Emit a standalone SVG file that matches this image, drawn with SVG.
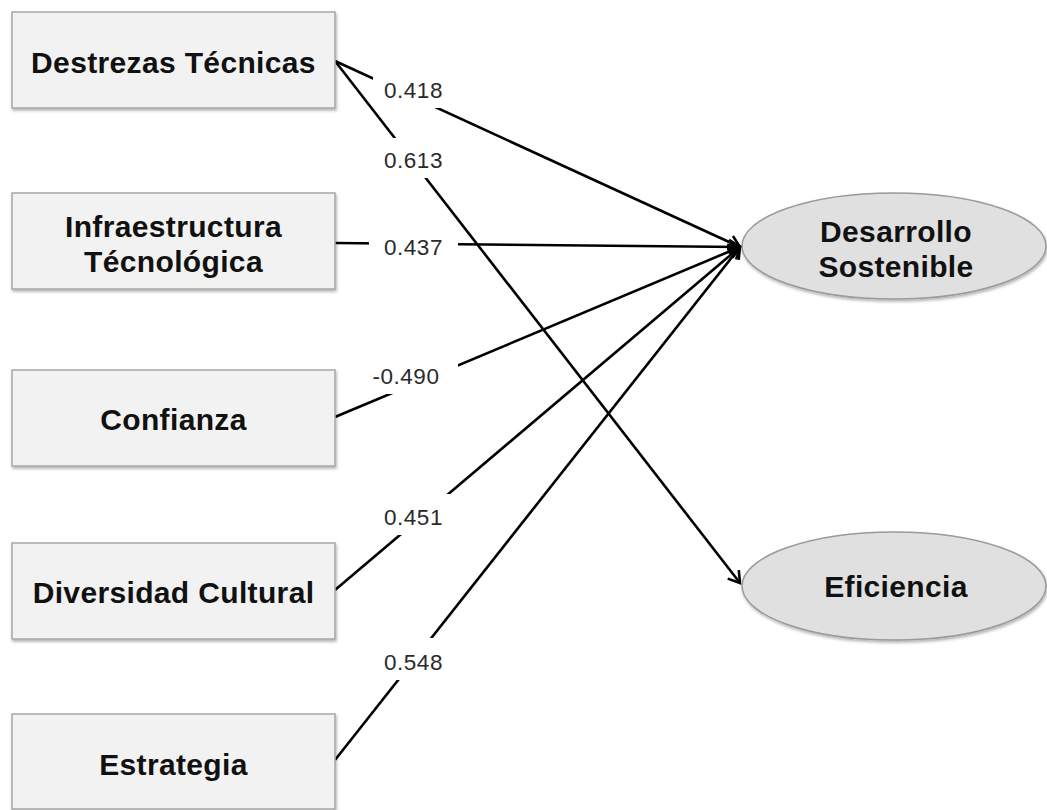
<svg xmlns="http://www.w3.org/2000/svg" width="1047" height="810" viewBox="0 0 1047 810">
  <style>
    .box { fill: #f2f2f2; stroke: #a6a6a6; stroke-width: 1.5; filter: url(#shadow); }
    .ell { fill: #e0e0e0; stroke: #9a9a9a; stroke-width: 1.5; filter: url(#shadow); }
    .nt { font-family: "Liberation Sans", Arial, Helvetica, sans-serif; font-weight: bold; font-size: 30px; letter-spacing: 0.35px; fill: #111; text-anchor: middle; }
    .edge { stroke: #000; stroke-width: 2.6; fill: none; marker-end: url(#arrow); }
    .lblbg { fill: #fff; stroke: none; }
    .lbl { font-family: "Liberation Sans", Arial, Helvetica, sans-serif; font-size: 22.5px; letter-spacing: 0.5px; fill: #2a2a2a; text-anchor: middle; }
  </style>
  <defs>
    <filter id="shadow" x="-5%" y="-5%" width="115%" height="120%">
      <feDropShadow dx="1" dy="2" stdDeviation="1.5" flood-color="#000" flood-opacity="0.3"/>
    </filter>
    <marker id="arrow" markerUnits="userSpaceOnUse" markerWidth="24" markerHeight="24" refX="20" refY="12" orient="auto">
      <path d="M9,5 L20,12 L9,19" fill="none" stroke="#000" stroke-width="2.6" stroke-linejoin="miter"/>
    </marker>
  </defs>
  <rect width="1047" height="810" fill="#fff"/>

  <g id="connectors">
    <line class="edge" x1="335" y1="61" x2="740" y2="247"/>
    <line class="edge" x1="335" y1="61" x2="740" y2="583"/>
    <line class="edge" x1="335" y1="243" x2="740" y2="247"/>
    <line class="edge" x1="335" y1="417" x2="740" y2="247"/>
    <line class="edge" x1="335" y1="590" x2="740" y2="247"/>
    <line class="edge" x1="335" y1="760" x2="740" y2="247"/>
    <g id="labels">
      <rect class="lblbg" x="373" y="72" width="79" height="36"/>
      <text class="lbl" x="413.5" y="98">0.418</text>
      <rect class="lblbg" x="369" y="138" width="83" height="40"/>
      <text class="lbl" x="413.5" y="168">0.613</text>
      <rect class="lblbg" x="369" y="232" width="89" height="24"/>
      <text class="lbl" x="413.5" y="255">0.437</text>
      <rect class="lblbg" x="370" y="364" width="88" height="30"/>
      <text class="lbl" x="406" y="384">-0.490</text>
      <rect class="lblbg" x="369" y="494" width="83" height="41"/>
      <text class="lbl" x="413.5" y="525">0.451</text>
      <rect class="lblbg" x="369" y="638" width="83" height="42"/>
      <text class="lbl" x="413.5" y="670">0.548</text>
    </g>
  </g>

  <g id="destrezas">
    <rect class="box" x="12" y="12" width="323" height="96"/>
    <text class="nt" x="173.5" y="73">Destrezas Técnicas</text>
  </g>
  <g id="infraestructura">
    <rect class="box" x="12" y="193" width="323" height="96"/>
    <text class="nt" x="173.5" y="237">Infraestructura</text>
    <text class="nt" x="173.5" y="272">Técnológica</text>
  </g>
  <g id="confianza">
    <rect class="box" x="12" y="370" width="323" height="96"/>
    <text class="nt" x="173.5" y="430">Confianza</text>
  </g>
  <g id="diversidad">
    <rect class="box" x="12" y="543" width="323" height="96"/>
    <text class="nt" x="173.5" y="603">Diversidad Cultural</text>
  </g>
  <g id="estrategia">
    <rect class="box" x="12" y="714" width="323" height="95"/>
    <text class="nt" x="173.5" y="775">Estrategia</text>
  </g>
  <g id="desarrollo">
    <ellipse class="ell" cx="894" cy="246" rx="152" ry="53"/>
    <text class="nt" x="896" y="242">Desarrollo</text>
    <text class="nt" x="896" y="277">Sostenible</text>
  </g>
  <g id="eficiencia">
    <ellipse class="ell" cx="894" cy="586" rx="152" ry="54"/>
    <text class="nt" x="896" y="597">Eficiencia</text>
  </g>
</svg>
